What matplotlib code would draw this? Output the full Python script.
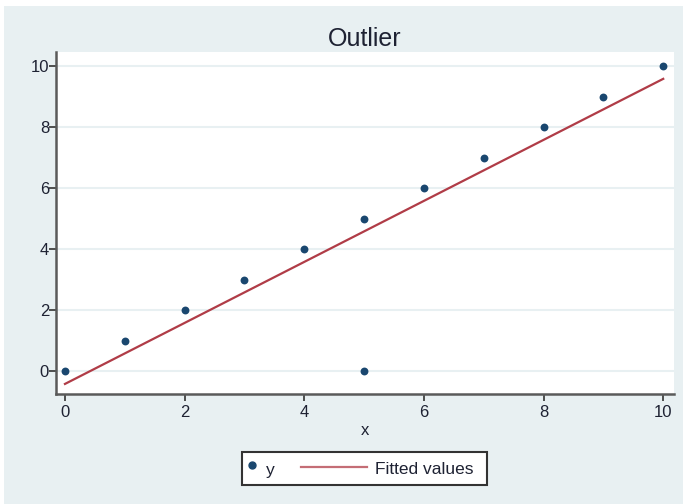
import matplotlib
matplotlib.use("Agg")
import matplotlib.pyplot as plt
from matplotlib.lines import Line2D
from matplotlib.patches import Rectangle
from matplotlib.transforms import Affine2D

# observed data (one outlier at x=5)
x_vals = [0, 1, 2, 3, 4, 5, 5, 6, 7, 8, 9, 10]
y_vals = [0, 1, 2, 3, 4, 5, 0, 6, 7, 8, 9, 10]

# fitted regression line
fit_x = [0, 10]
fit_y = [-0.42, 9.58]

x_ticks = [0, 2, 4, 6, 8, 10]
y_ticks = [0, 2, 4, 6, 8, 10]
legend_labels = ["y", "Fitted values"]

BG = "#e8f0f2"
NAVY = "#1a476f"
MAROON = "#b03c47"
AXIS = "#5a5a5a"
TXT = "#1e2233"

plt.rcParams["font.family"] = ["Liberation Sans", "DejaVu Sans"]

W, H = 687, 504
fig = plt.figure(figsize=(W / 100, H / 100), dpi=100, facecolor="white")
# pixel coords, origin top-left
px = Affine2D().scale(1 / W, -1 / H).translate(0, 1) + fig.transFigure

fig.patches.append(Rectangle((4, 6), 679, 498, transform=px, facecolor=BG,
                             edgecolor="none", zorder=-10))

ax = fig.add_axes([56 / W, 1 - 394 / H, (674 - 56) / W, (394 - 52) / H])
ax.set_facecolor("white")

ax.scatter(x_vals, y_vals, s=32, color=NAVY, zorder=3, linewidths=0)
ax.plot(fit_x, fit_y, color=MAROON, lw=1.6, zorder=2)

ax.set_xlim(-0.15, 10.18)
ax.set_ylim(-0.75, 10.46)
ax.set_xticks(x_ticks)
ax.set_yticks(y_ticks)
ax.grid(axis="y", color=BG, lw=1.5)
ax.set_axisbelow(True)

for side in ("top", "right"):
    ax.spines[side].set_visible(False)
for side in ("left", "bottom"):
    ax.spines[side].set_color(AXIS)
    ax.spines[side].set_linewidth(1.8)
ax.tick_params(colors="#333333", labelcolor=TXT, labelsize=12,
               length=5, width=1.2, pad=3)
ax.tick_params(axis="y", pad=0)

ax.set_xlabel("x", fontsize=12, color=TXT, labelpad=2)
ax.set_title("Outlier", fontsize=18, color=TXT, pad=4)

# legend drawn by hand: short marker key, long line key
fig.patches.append(Rectangle((242, 452), 245, 33, transform=px,
                             facecolor="white", edgecolor="#333333", lw=1.5))
fig.lines.append(Line2D([252], [465], transform=px, marker="o", ls="none",
                        color=NAVY, markersize=5))
fig.text(266, 470, legend_labels[0], transform=px, fontsize=12.5, color=TXT,
         va="center", ha="left")
fig.lines.append(Line2D([301, 367], [467, 467], transform=px,
                        color=MAROON, lw=1.6, alpha=0.75))
fig.text(375, 469, legend_labels[1], transform=px, fontsize=12.5, color=TXT,
         va="center", ha="left")

fig.savefig("out.png", dpi=100, facecolor="white")
